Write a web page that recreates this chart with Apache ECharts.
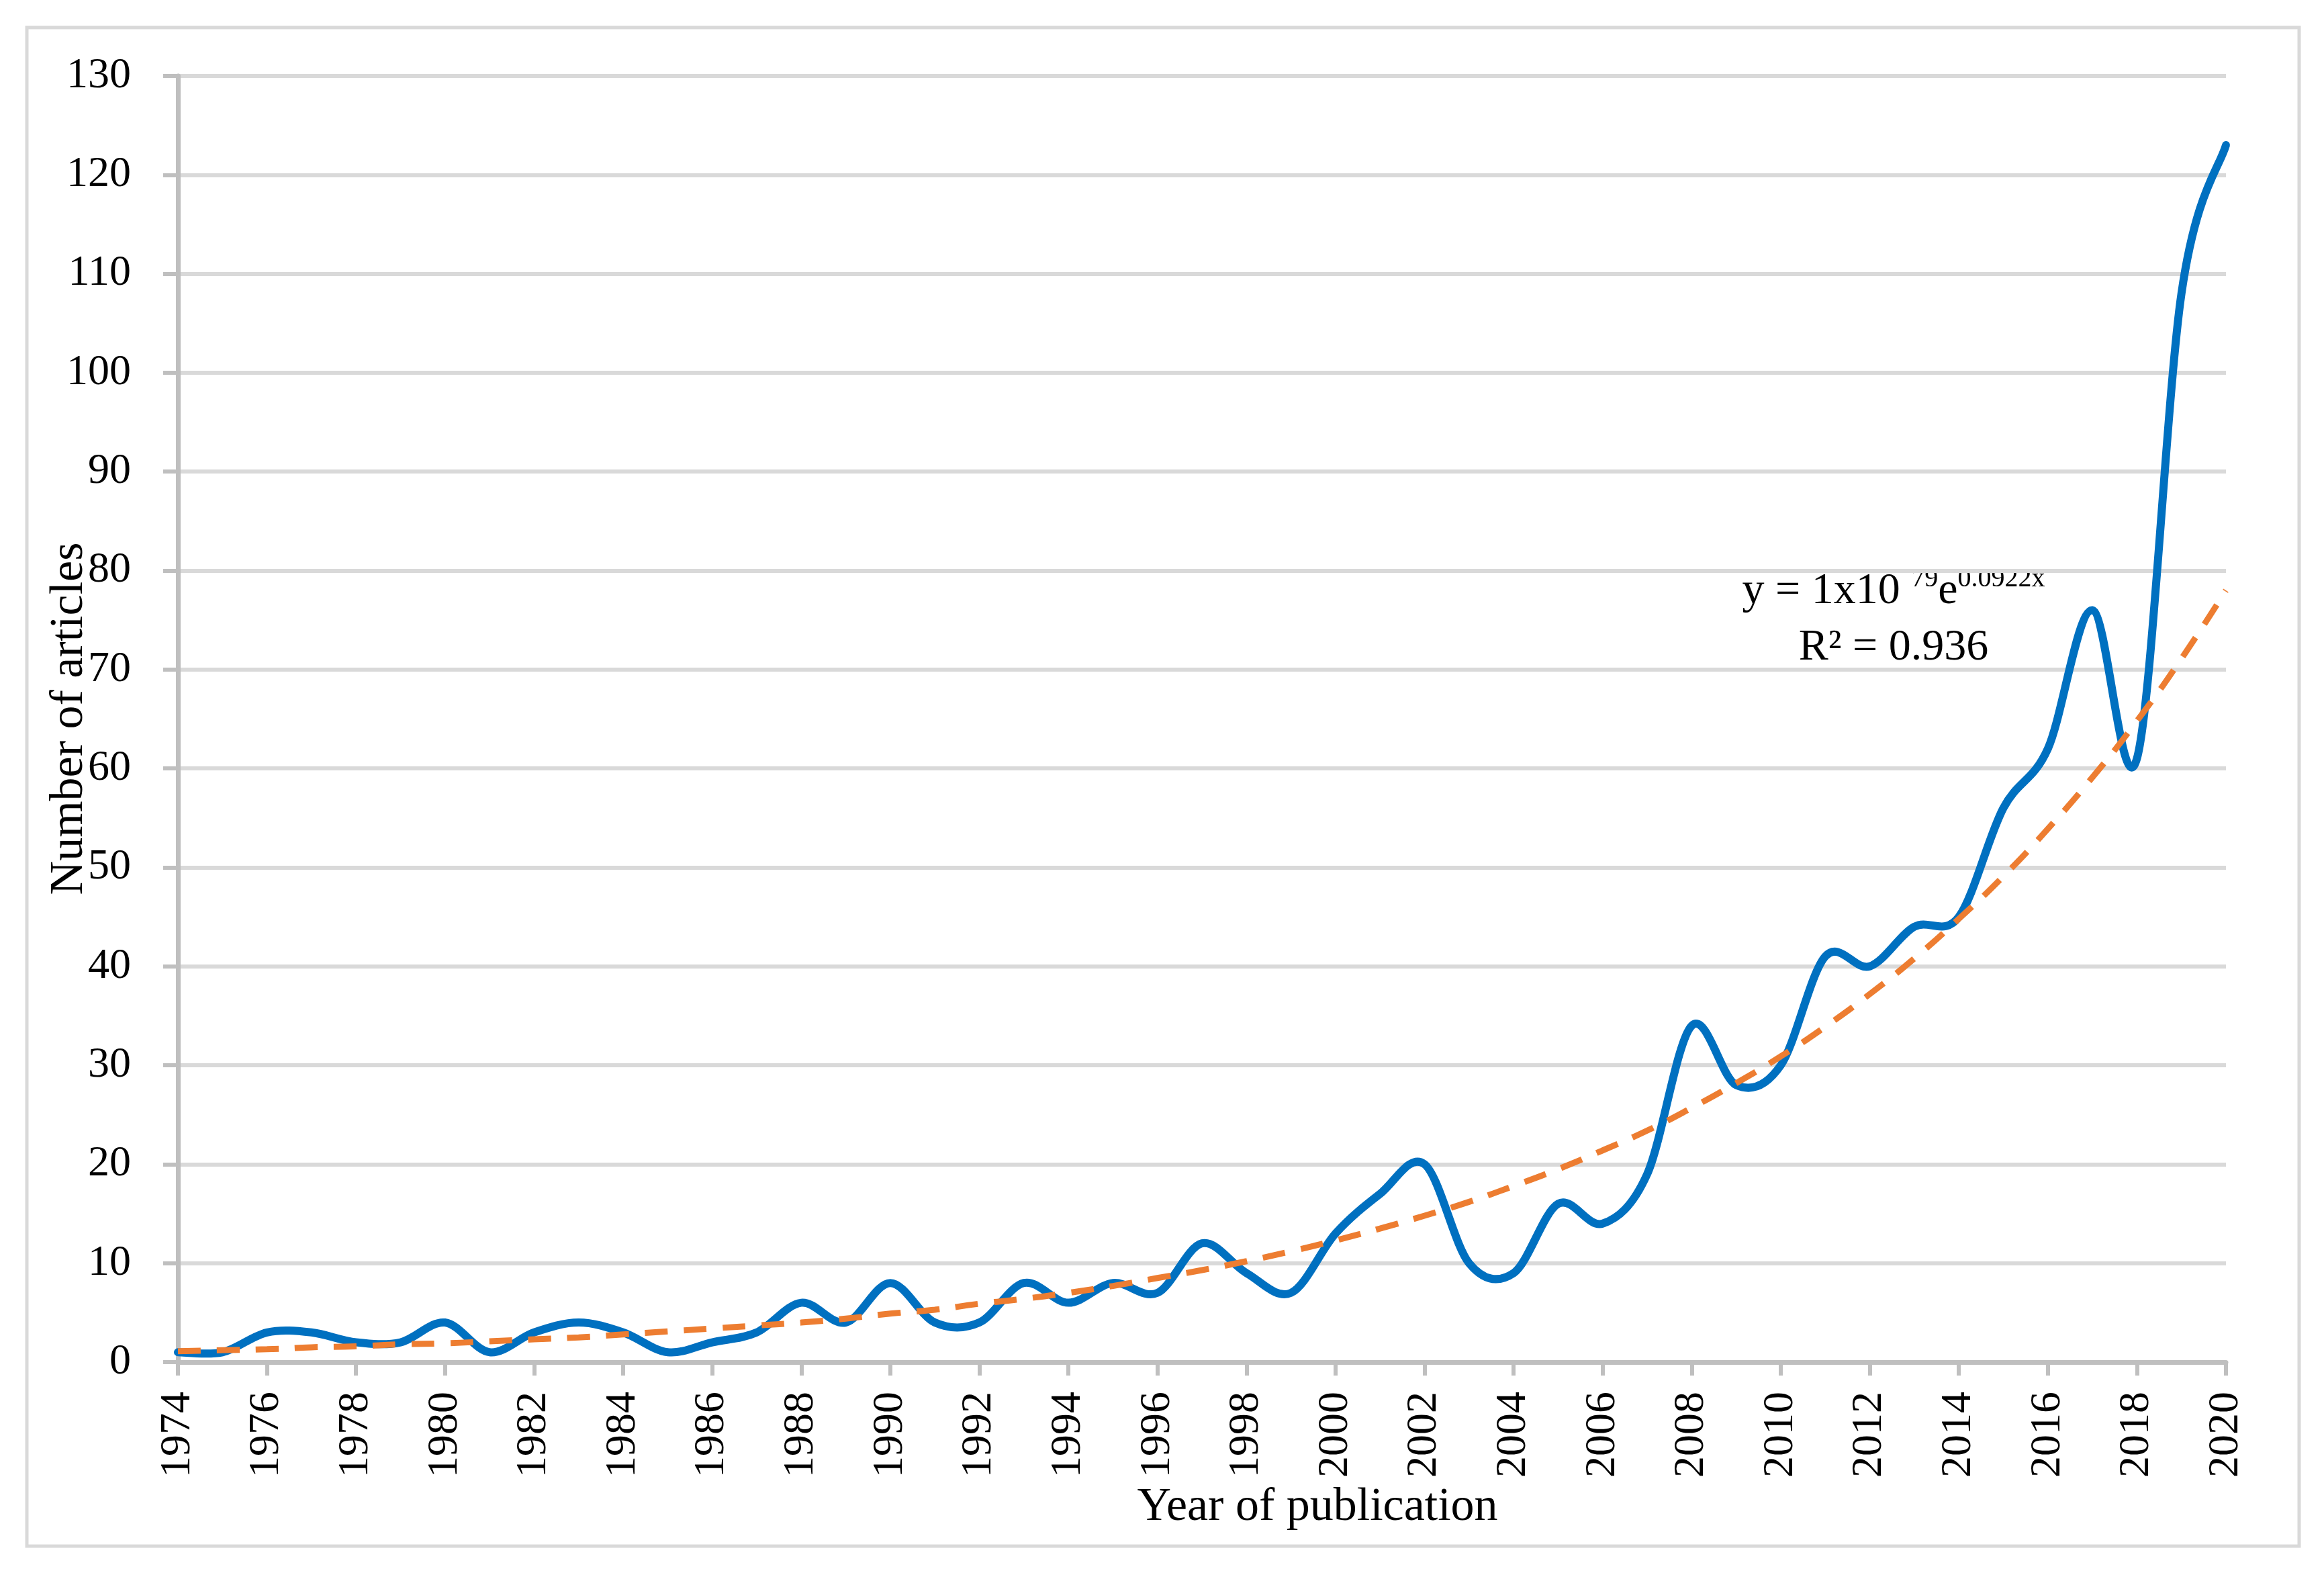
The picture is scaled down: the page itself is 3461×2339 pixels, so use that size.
<!DOCTYPE html>
<html>
<head>
<meta charset="utf-8">
<script src="https://cdn.jsdelivr.net/npm/echarts@6/dist/echarts.min.js"></script>
<style>
html,body{margin:0;padding:0;background:#fff;}
#chart{width:3461px;height:2339px;}
</style>
</head>
<body>
<div id="chart"></div>
<script>
const years = ['1974','1975','1976','1977','1978','1979','1980','1981','1982','1983','1984','1985','1986','1987','1988','1989','1990','1991','1992','1993','1994','1995','1996','1997','1998','1999','2000','2001','2002','2003','2004','2005','2006','2007','2008','2009','2010','2011','2012','2013','2014','2015','2016','2017','2018','2019','2020'];
const articles = [1,1,3,3,2,2,4,1,3,4,3,1,2,3,6,4,8,4,4,8,6,8,7,12,9,7,13,17,20,10,9,16,14,19,34,28,30,41,40,44,45,56,62,76,61,108,123];
const trend = [1.1,1.2,1.3,1.5,1.6,1.8,1.9,2.1,2.3,2.5,2.8,3.1,3.4,3.7,4.0,4.4,4.9,5.3,5.9,6.4,7.0,7.7,8.5,9.3,10.2,11.2,12.3,13.5,14.8,16.2,17.8,19.5,21.4,23.4,25.7,28.2,30.9,33.9,37.2,40.8,44.8,49.1,53.9,59.1,64.8,71.1,78.0];
const yTicks = {min: 0, max: 130, interval: 10};
const xTitle = 'Year of publication';
const yTitle = 'Number of articles';

const FONT = '"Liberation Serif", "Times New Roman", serif';

// Excel-like smoothed line (Catmull-Rom Bezier) drawn through the axis scales
function smoothPath(api) {
  const pts = articles.map((v, i) => api.coord([i, v]));
  const n = pts.length;
  let d = 'M' + pts[0][0] + ' ' + pts[0][1];
  for (let i = 0; i < n - 1; i++) {
    const p0 = pts[Math.max(i - 1, 0)];
    const p1 = pts[i];
    const p2 = pts[i + 1];
    const p3 = pts[Math.min(i + 2, n - 1)];
    const c1x = p1[0] + (p2[0] - p0[0]) / 6;
    const c1y = p1[1] + (p2[1] - p0[1]) / 6;
    const c2x = p2[0] - (p3[0] - p1[0]) / 6;
    const c2y = p2[1] - (p3[1] - p1[1]) / 6;
    d += ' C' + c1x + ' ' + c1y + ' ' + c2x + ' ' + c2y + ' ' + p2[0] + ' ' + p2[1];
  }
  return d;
}

const chart = echarts.init(document.getElementById('chart'), null, {renderer: 'canvas'});
chart.setOption({
  backgroundColor: '#ffffff',
  animation: false,
  grid: {left: 265, right: 146, top: 113, bottom: 311, containLabel: false},
  xAxis: {
    type: 'category',
    data: years,
    boundaryGap: false,
    axisLine: {show: true, lineStyle: {color: '#bfbfbf', width: 7}},
    axisTick: {show: true, interval: 1, length: 20, lineStyle: {color: '#bfbfbf', width: 6}},
    axisLabel: {interval: 1, rotate: 90, margin: 44, fontFamily: FONT, fontSize: 64, color: '#000'},
    splitLine: {show: false}
  },
  yAxis: {
    type: 'value',
    min: yTicks.min, max: yTicks.max, interval: yTicks.interval,
    axisLine: {show: true, lineStyle: {color: '#bfbfbf', width: 7}},
    axisTick: {show: true, length: 22, lineStyle: {color: '#bfbfbf', width: 6}},
    axisLabel: {margin: 70, fontFamily: FONT, fontSize: 64, color: '#000'},
    splitLine: {show: true, lineStyle: {color: '#d9d9d9', width: 6}}
  },
  series: [
    {
      type: 'custom', name: 'Articles',
      data: articles.map((v, i) => [i, v]),
      encode: {x: 0, y: 1},
      clip: false,
      z: 3,
      renderItem: function (params, api) {
        if (params.dataIndex !== 0) return null;
        return {
          type: 'path',
          shape: {pathData: smoothPath(api)},
          style: {fill: 'none', stroke: '#0070c0', lineWidth: 12, lineJoin: 'round', lineCap: 'round'}
        };
      }
    },
    {
      type: 'line', name: 'Trend', data: trend, smooth: true,
      symbol: 'none', lineStyle: {color: '#ed7d31', width: 9, type: [34, 24], cap: 'butt'}, z: 4
    }
  ],
  graphic: [
    {type: 'rect', shape: {x: 40, y: 41, width: 3384, height: 2261}, style: {fill: 'none', stroke: '#d9d9d9', lineWidth: 5}, silent: true, z: -1},
    {type: 'text', x: 1962, y: 2245, style: {text: xTitle, font: '70px ' + FONT, fill: '#000', textAlign: 'center', textVerticalAlign: 'middle'}},
    {type: 'text', x: 104, y: 1070, rotation: Math.PI / 2, style: {text: yTitle, font: '70px ' + FONT, fill: '#000', textAlign: 'center', textVerticalAlign: 'middle'}},
    {type: 'text', x: 2820, y: 878, style: {
      text: '{b|y = 1x10 }{s|79}{b|e}{s|0.0922x}',
      textAlign: 'center', textVerticalAlign: 'middle',
      rich: {
        b: {fontFamily: FONT, fontSize: 66, lineHeight: 72, color: '#000', verticalAlign: 'bottom'},
        s: {fontFamily: FONT, fontSize: 40, lineHeight: 40, color: '#000', verticalAlign: 'top'}
      }
    }},
    {type: 'text', x: 2820, y: 965, style: {text: 'R² = 0.936', font: '66px ' + FONT, fill: '#000', textAlign: 'center', textVerticalAlign: 'middle'}}
  ]
});
</script>
</body>
</html>
